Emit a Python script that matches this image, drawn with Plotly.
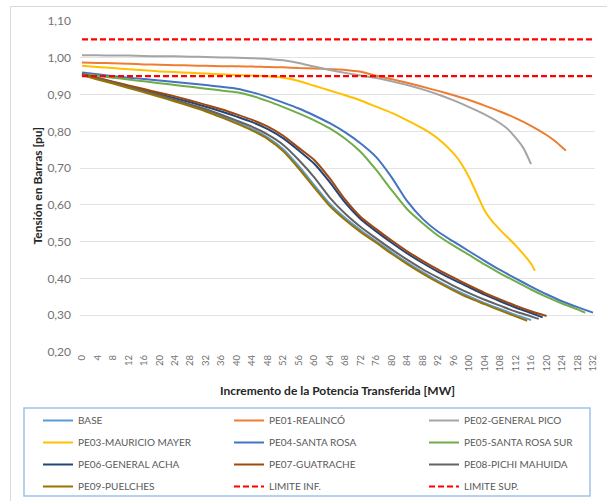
import plotly.graph_objects as go

# ---- data: bus voltage [pu] vs. transferred power increment [MW] ----
x_ticks = list(range(0, 133, 4))

x_base = [0, 4, 8, 12, 16, 20, 24, 28, 32, 36, 40, 44, 48, 52, 56, 60, 64, 68, 72, 76, 80, 84, 88, 92, 96, 100, 104, 108, 112, 116]
v_base = [0.958, 0.946, 0.934, 0.922, 0.910, 0.897, 0.884, 0.871, 0.857, 0.841, 0.824, 0.806, 0.783, 0.751, 0.705, 0.654, 0.603, 0.564, 0.531, 0.501, 0.471, 0.443, 0.417, 0.393, 0.371, 0.351, 0.333, 0.317, 0.301, 0.287]

x_pe01 = [0, 4, 8, 12, 16, 20, 24, 28, 32, 36, 40, 44, 48, 52, 56, 60, 64, 68, 72, 76, 80, 84, 88, 92, 96, 100, 104, 108, 112, 116, 120, 122, 124, 125]
v_pe01 = [0.987, 0.986, 0.985, 0.984, 0.982, 0.981, 0.980, 0.979, 0.978, 0.977, 0.977, 0.976, 0.975, 0.974, 0.972, 0.971, 0.969, 0.967, 0.962, 0.951, 0.942, 0.932, 0.921, 0.910, 0.898, 0.885, 0.870, 0.854, 0.836, 0.815, 0.790, 0.775, 0.757, 0.748]

x_pe02 = [0, 4, 8, 12, 16, 20, 24, 28, 32, 36, 40, 44, 48, 52, 56, 60, 64, 68, 72, 76, 80, 84, 88, 92, 96, 100, 104, 108, 110, 112, 114, 116]
v_pe02 = [1.007, 1.007, 1.006, 1.006, 1.005, 1.004, 1.004, 1.003, 1.002, 1.001, 1.000, 0.999, 0.997, 0.993, 0.986, 0.976, 0.967, 0.959, 0.952, 0.945, 0.936, 0.926, 0.914, 0.900, 0.884, 0.866, 0.846, 0.822, 0.806, 0.783, 0.755, 0.711]

x_pe03 = [0, 4, 8, 12, 16, 20, 24, 28, 32, 36, 40, 44, 48, 52, 56, 60, 64, 68, 72, 76, 80, 84, 88, 92, 96, 98, 100, 102, 104, 106, 108, 112, 116, 117]
v_pe03 = [0.978, 0.975, 0.972, 0.969, 0.966, 0.963, 0.961, 0.959, 0.957, 0.955, 0.953, 0.952, 0.950, 0.946, 0.937, 0.924, 0.911, 0.898, 0.884, 0.867, 0.850, 0.830, 0.808, 0.780, 0.740, 0.712, 0.675, 0.630, 0.585, 0.555, 0.532, 0.490, 0.440, 0.421]

x_pe04 = [0, 4, 8, 12, 16, 20, 24, 28, 32, 36, 40, 44, 48, 52, 56, 60, 64, 68, 72, 76, 80, 84, 88, 92, 96, 100, 104, 108, 112, 116, 120, 124, 128, 132]
v_pe04 = [0.960, 0.955, 0.950, 0.946, 0.942, 0.938, 0.934, 0.930, 0.926, 0.921, 0.916, 0.906, 0.893, 0.878, 0.862, 0.843, 0.822, 0.797, 0.767, 0.730, 0.675, 0.610, 0.562, 0.527, 0.500, 0.474, 0.448, 0.423, 0.400, 0.378, 0.357, 0.338, 0.322, 0.307]

x_pe05 = [0, 4, 8, 12, 16, 20, 24, 28, 32, 36, 40, 44, 48, 52, 56, 60, 64, 68, 72, 76, 80, 84, 88, 92, 96, 100, 104, 108, 112, 116, 120, 124, 128, 130]
v_pe05 = [0.956, 0.951, 0.946, 0.941, 0.936, 0.931, 0.926, 0.921, 0.916, 0.911, 0.906, 0.896, 0.882, 0.866, 0.849, 0.830, 0.808, 0.780, 0.744, 0.695, 0.640, 0.588, 0.550, 0.516, 0.489, 0.464, 0.438, 0.414, 0.392, 0.370, 0.350, 0.332, 0.316, 0.307]

x_pe06 = [0, 4, 8, 12, 16, 20, 24, 28, 32, 36, 40, 44, 48, 52, 56, 60, 64, 68, 72, 76, 80, 84, 88, 92, 96, 100, 104, 108, 112, 116, 119]
v_pe06 = [0.955, 0.944, 0.933, 0.923, 0.912, 0.901, 0.890, 0.879, 0.867, 0.854, 0.840, 0.825, 0.806, 0.781, 0.748, 0.712, 0.662, 0.606, 0.561, 0.528, 0.497, 0.468, 0.442, 0.418, 0.396, 0.376, 0.356, 0.338, 0.321, 0.306, 0.294]

x_pe07 = [0, 4, 8, 12, 16, 20, 24, 28, 32, 36, 40, 44, 48, 52, 56, 60, 64, 68, 72, 76, 80, 84, 88, 92, 96, 100, 104, 108, 112, 116, 120]
v_pe07 = [0.955, 0.945, 0.935, 0.925, 0.915, 0.905, 0.895, 0.884, 0.872, 0.860, 0.846, 0.831, 0.813, 0.788, 0.755, 0.722, 0.672, 0.614, 0.567, 0.534, 0.503, 0.474, 0.448, 0.424, 0.402, 0.381, 0.361, 0.343, 0.326, 0.311, 0.298]

x_pe08 = [0, 4, 8, 12, 16, 20, 24, 28, 32, 36, 40, 44, 48, 52, 56, 60, 64, 68, 72, 76, 80, 84, 88, 92, 96, 100, 104, 108, 112, 116, 118]
v_pe08 = [0.956, 0.944, 0.933, 0.921, 0.910, 0.898, 0.886, 0.873, 0.860, 0.845, 0.829, 0.812, 0.791, 0.763, 0.722, 0.675, 0.620, 0.576, 0.540, 0.509, 0.479, 0.451, 0.425, 0.402, 0.380, 0.360, 0.342, 0.326, 0.310, 0.297, 0.290]

x_pe09 = [0, 4, 8, 12, 16, 20, 24, 28, 32, 36, 40, 44, 48, 52, 56, 60, 64, 68, 72, 76, 80, 84, 88, 92, 96, 100, 104, 108, 112, 115]
v_pe09 = [0.953, 0.941, 0.930, 0.918, 0.906, 0.894, 0.881, 0.868, 0.854, 0.838, 0.821, 0.802, 0.779, 0.746, 0.699, 0.647, 0.597, 0.559, 0.526, 0.497, 0.467, 0.439, 0.413, 0.389, 0.367, 0.347, 0.330, 0.313, 0.297, 0.285]

x_limits = [0, 132]
limite_inf = 0.95
limite_sup = 1.05

series = [
    ("BASE", x_base, v_base, "#5B9BD5"),
    ("PE01-REALINCÓ", x_pe01, v_pe01, "#ED7D31"),
    ("PE02-GENERAL PICO", x_pe02, v_pe02, "#A5A5A5"),
    ("PE03-MAURICIO MAYER", x_pe03, v_pe03, "#FFC000"),
    ("PE04-SANTA ROSA", x_pe04, v_pe04, "#4472C4"),
    ("PE05-SANTA ROSA SUR", x_pe05, v_pe05, "#70AD47"),
    ("PE06-GENERAL ACHA", x_pe06, v_pe06, "#264478"),
    ("PE07-GUATRACHE", x_pe07, v_pe07, "#9E480E"),
    ("PE08-PICHI MAHUIDA", x_pe08, v_pe08, "#636363"),
    ("PE09-PUELCHES", x_pe09, v_pe09, "#997300"),
]
limits = [("LIMITE INF.", limite_inf), ("LIMITE SUP.", limite_sup)]

FONT = "Lato"
W, H = 607, 501
ML, MR, MT, MB = 80, 12, 21, 149
PW, PH = W - ML - MR, H - MT - MB

# legend laid out as three columns, filled row by row
LEGEND_IDS = ["legend", "legend2", "legend3"]
LEGEND_COL_X = [38, 229, 424]
LEGEND_TOP = 406


def px_x(p):
    return (p - ML) / PW


def px_y(p):
    return (H - MB - p) / PH


fig = go.Figure()
idx = 0
for name, xs, ys, color in series:
    fig.add_trace(go.Scatter(
        x=xs, y=ys, name=name, mode="lines",
        legend=LEGEND_IDS[idx % 3], legendgroup=name,
        line=dict(color=color, width=2, shape="spline", smoothing=0.6),
    ))
    idx += 1

for name, level in limits:
    fig.add_trace(go.Scatter(
        x=x_limits, y=[level] * len(x_limits), name=name, mode="lines",
        legend=LEGEND_IDS[idx % 3], legendgroup=name,
        line=dict(color="#FF0000", width=2.2, dash="6px,3px"),
    ))
    idx += 1

# outer chart frame and legend frame
fig.add_shape(type="rect", xref="paper", yref="paper",
              x0=px_x(10.5), x1=px_x(640), y0=px_y(6.5), y1=px_y(560),
              line=dict(color="#D9D9D9", width=1), layer="below")
fig.add_shape(type="rect", xref="paper", yref="paper",
              x0=px_x(24), x1=px_x(590), y0=px_y(408), y1=px_y(496),
              line=dict(color="#9DC3E6", width=1.5), layer="below")

fig.add_annotation(text="<b>Incremento de la Potencia Transferida [MW]</b>",
                   xref="paper", yref="paper", x=0.5, y=px_y(390),
                   xanchor="center", yanchor="middle", showarrow=False,
                   font=dict(family=FONT, size=12, color="#262626"))
fig.add_annotation(text="<b>Tensión en Barras [pu]</b>",
                   xref="paper", yref="paper", x=px_x(37), y=0.5, textangle=-90,
                   xanchor="center", yanchor="middle", showarrow=False,
                   font=dict(family=FONT, size=12, color="#262626"))

legend_style = dict(
    orientation="v", xref="container", yref="container",
    xanchor="left", yanchor="top",
    bgcolor="rgba(0,0,0,0)", borderwidth=0,
    font=dict(family=FONT, size=10, color="#595959"),
    traceorder="grouped", itemwidth=30, tracegroupgap=3,
)
legends = {}
for lid, lx in zip(LEGEND_IDS, LEGEND_COL_X):
    legends[lid] = dict(legend_style, x=lx / W, y=1 - LEGEND_TOP / H)

fig.update_layout(
    width=W, height=H,
    margin=dict(l=ML, r=MR, t=MT, b=MB, autoexpand=False),
    paper_bgcolor="white", plot_bgcolor="white",
    separators=",.",
    font=dict(family=FONT, color="#595959"),
    showlegend=True,
    xaxis=dict(
        range=[-0.52, 132.52], tickmode="array", tickvals=x_ticks,
        ticktext=[str(v) for v in x_ticks], tickangle=-90,
        tickfont=dict(family=FONT, size=9.5, color="#737373"),
        showgrid=False, zeroline=False, showline=False, ticks="",
        automargin=False,
    ),
    yaxis=dict(
        range=[0.2, 1.1], dtick=0.1, tick0=0.2, tickformat=".2f",
        tickfont=dict(family=FONT, size=12, color="#737373"),
        showgrid=True, gridcolor="#E3E3E3", gridwidth=1,
        zeroline=False, showline=False, ticks="", ticklabelstandoff=8,
        automargin=False,
    ),
    **legends,
)

fig.write_html("out.html")
